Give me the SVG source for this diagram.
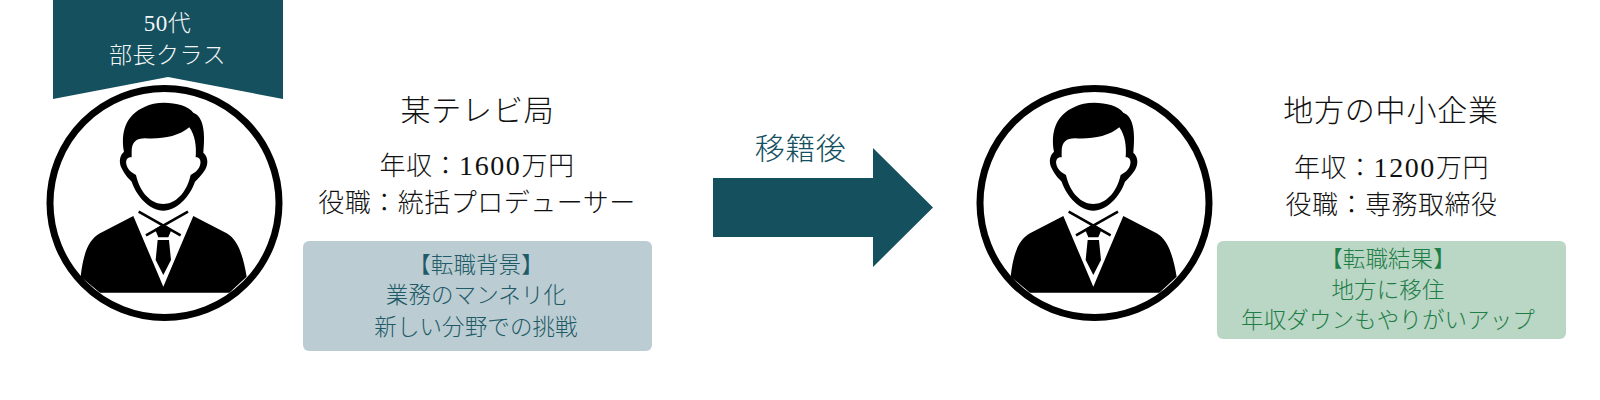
<svg xmlns="http://www.w3.org/2000/svg" width="1600" height="400" viewBox="0 0 1600 400">
<style>
text{font-family:"Liberation Serif","Noto Sans CJK JP",serif;text-anchor:middle;font-weight:300}
.h{font-size:30px;letter-spacing:.8px;fill:#111}
.b{font-size:26px;letter-spacing:.5px;fill:#111}
.d{font-size:28px;letter-spacing:1.6px}
.n{font-size:22.500px;letter-spacing:.1px}
.teal{fill:#1f5a68}
.green{fill:#1f7d48}
.w{font-size:23px;letter-spacing:.5px;fill:#f2f6f7}
.dark{fill:#15505f}
.a{font-size:30px;letter-spacing:.5px}
</style>
<defs>
<g id="person">
<circle cx="134.500" cy="203" r="114.500" fill="#fff" stroke="#000" stroke-width="7"/>
<g transform="scale(0.3333)">
<path fill="#000" d="M282,455C272,400 285,345 345,320C385,298 470,308 490,338C522,350 526,400 520,458C533,468 537,490 525,510C515,525 505,535 495,545C480,590 440,632 400,632C360,632 320,590 305,545C295,535 285,525 275,505C265,485 270,465 282,455Z"/>
<path fill="#fff" d="M305,455C305,425 320,415 345,415C395,418 445,410 478,382C495,405 500,440 497,472C505,470 514,478 511,492C508,508 495,518 482,525C470,580 435,612 400,612C365,612 330,580 318,525C305,518 292,508 289,492C286,478 295,470 305,472Z"/>
<path fill="#000" d="M152,830C160,760 175,720 210,700L310,648L400,860L490,648L590,700C625,720 640,770 650,830L598,878H210Z"/>
<path fill="none" stroke="#000" stroke-width="8" d="M326,635L452,706M474,635L348,706"/>
<path fill="#000" d="M375,688L400,672L425,688L415,712H385ZM383,720H417L423,780L400,825L377,780Z"/>
</g>
</g>
</defs>
<g id="connectors">
<path class="dark" d="M713,178H873V148L933,207.500L873,267V237H713Z"/>
<text x="800.500" y="159" class="dark a">移籍後</text>
</g>
<g id="badge">
<path class="dark" d="M53,0H283V99L168,77L53,99Z"/>
<text x="167.500" y="31" class="w">50代</text>
<text x="167.500" y="63" class="w">部長クラス</text>
</g>
<g id="person-before"><use href="#person" x="30"/></g>
<g id="info-before">
<text x="477.500" y="121" class="h">某テレビ局</text>
<text x="477" y="175" class="b">年収：<tspan class="d">1600</tspan>万円</text>
<text x="477" y="212" class="b">役職：統括プロデューサー</text>
</g>
<g id="reason">
<rect x="303" y="241" width="349" height="110" rx="6" fill="#bbcdd2"/>
<text x="476" y="273" class="n teal">【転職背景】</text>
<text x="476" y="303" class="n teal">業務のマンネリ化</text>
<text x="476" y="335" class="n teal">新しい分野での挑戦</text>
</g>
<g id="person-after"><use href="#person" x="960"/></g>
<g id="info-after">
<text x="1391" y="121" class="h">地方の中小企業</text>
<text x="1391.500" y="177" class="b">年収：<tspan class="d">1200</tspan>万円</text>
<text x="1391.500" y="214" class="b">役職：専務取締役</text>
</g>
<g id="result">
<rect x="1217" y="241" width="349" height="98" rx="6" fill="#bad6c4"/>
<text x="1388" y="267" class="n green">【転職結果】</text>
<text x="1388" y="298" class="n green">地方に移住</text>
<text x="1388" y="328" class="n green">年収ダウンもやりがいアップ</text>
</g>
</svg>
